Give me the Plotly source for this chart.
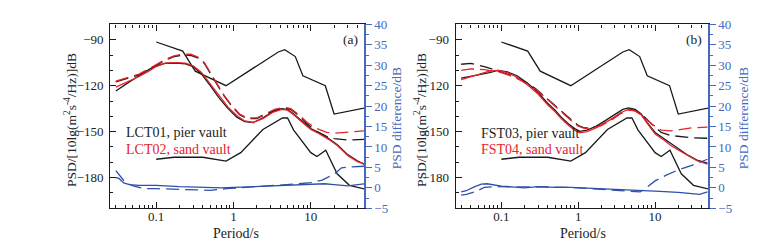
import plotly.graph_objects as go

# ---------------- data ----------------
# Peterson noise models (both panels)
T_nhnm = [0.1, 0.22, 0.32, 0.8, 3.8, 4.6, 6.3, 7.9, 15.4, 20.0, 50.0]
V_nhnm = [-91.5, -97.4, -110.5, -120.0, -98.0, -96.5, -101.0, -113.5, -120.0, -138.5, -134.5]
T_nlnm = [0.1, 0.17, 0.4, 0.8, 1.24, 2.4, 4.3, 5.0, 6.0, 10.0, 12.0, 15.6, 21.9, 31.6, 50.0]
V_nlnm = [-168.0, -166.7, -166.7, -169.2, -163.7, -148.6, -141.1, -141.1, -149.0, -163.7, -166.2, -162.1, -177.5, -185.0, -187.5]

# Panel (a)
Ta_solid = [0.03, 0.035, 0.045, 0.06, 0.08, 0.1, 0.13, 0.18, 0.24, 0.3, 0.38, 0.5, 0.65, 0.85, 1.1, 1.4,
            1.8, 2.4, 3.2, 4.2, 5.0, 6.0, 8.0, 10, 13, 17, 22, 30, 40, 50]
a_red_solid = [-121, -119.5, -117, -114, -110.5, -107.5, -105.3, -105, -105.3, -107, -111, -119, -127, -134,
               -139.5, -143, -144, -141.5, -137.5, -135.5, -136, -139, -144.5, -148.5, -151.5, -155, -159,
               -165.5, -169.5, -171]
a_black_solid = [-123.5, -121, -117.5, -113.5, -109.5, -107, -105.5, -105.2, -105.8, -107.5, -112, -120, -128,
                 -135, -140.5, -143.5, -144, -141, -137, -135, -135.5, -138.5, -144, -148, -151, -154.5,
                 -158.5, -165, -169, -171.5]
Ta_dash = [0.03, 0.04, 0.06, 0.08, 0.1, 0.13, 0.17, 0.22, 0.28, 0.35, 0.42, 0.5, 0.6, 0.75, 0.95, 1.2, 1.5,
           2.0, 2.6, 3.4, 4.5, 5.5, 7, 9, 12, 16, 20, 30, 50]
a_red_dash = [-117, -115, -112.5, -109, -106, -103, -100.5, -99.3, -99.5, -101.5, -105, -111, -118, -126, -133,
              -138.5, -141, -141, -138.5, -135.5, -134, -135, -139, -144, -148, -150.5, -151, -150.5, -149.5]
a_black_dash = [-117.5, -115.5, -113, -109.5, -106.5, -103.5, -101, -100, -100.3, -102, -105.5, -111.5, -118.5,
                -126.5, -133.5, -139, -141.5, -141.5, -139, -136, -134.5, -135.5, -139.5, -145, -150, -153,
                -154.5, -155.5, -155]
Ta_dsolid = [0.03, 0.033, 0.038, 0.045, 0.06, 0.1, 0.2, 0.4, 0.7, 1, 2, 4, 7, 10, 15, 20, 30, 50]
a_diff_solid = [2.5, 2.3, 1.2, 0.8, 0.6, 0.6, 0.3, 0.1, 0.0, 0.1, 0.3, 0.5, 0.8, 0.9, 1.0, 0.8, 0.5, 1.0]
Ta_ddash = [0.03, 0.035, 0.04, 0.05, 0.07, 0.1, 0.2, 0.35, 0.5, 0.8, 1.2, 2, 4, 7, 10, 14, 20, 25, 30, 50]
a_diff_dash = [4.2, 2.5, 1.3, 0.5, -0.2, -0.2, -0.3, -0.4, -0.6, -0.2, 0.0, 0.3, 0.6, 1.0, 1.3, 1.9, 3.3,
               4.9, 5.1, 5.3]

# Panel (b)
Tb_solid = [0.03, 0.04, 0.05, 0.07, 0.09, 0.12, 0.16, 0.22, 0.3, 0.4, 0.5, 0.6, 0.75, 0.9, 1.05, 1.3, 1.7,
            2.3, 3.0, 3.8, 4.5, 5.5, 6.6, 8, 10, 13, 16, 20, 27, 35, 48]
b_red_solid = [-116, -114, -112.5, -110.5, -110, -111.5, -114.5, -119.5, -125.5, -132.4, -137, -141.5, -146,
               -149, -150.8, -150, -147.5, -144, -140.5, -137, -135.5, -136.5, -139, -145, -151.5, -155.5,
               -159, -162, -166, -169, -171.2]
b_black_solid = [-115, -114, -113, -111.5, -110, -111, -113.5, -118.5, -124.5, -131.5, -136, -140.5, -145,
                 -148, -149.8, -149, -146.5, -142.5, -139, -135.5, -134.5, -135.5, -138.5, -144.5, -150.5,
                 -154.5, -158, -161, -165.5, -168.5, -170.5]
Tb_dash = [0.03, 0.04, 0.06, 0.08, 0.1, 0.13, 0.17, 0.22, 0.28, 0.35, 0.45, 0.6, 0.8, 1.0, 1.2, 1.5, 2, 2.7,
           3.5, 4.5, 5.5, 7, 9, 12, 16, 22, 30, 48]
b_red_dash = [-110, -109, -109.5, -110.5, -111.5, -113.5, -116, -119, -122.5, -126.5, -131.5, -137, -142.5,
              -146.5, -147.8, -147.8, -146, -142.5, -138.5, -136, -136.5, -140, -145, -149, -149.5, -148.5,
              -147.5, -147]
b_black_dash = [-106, -105.5, -107.5, -109.5, -111, -113, -115.5, -118.5, -122, -126, -131, -136.5, -142, -146,
                -147.5, -147.5, -145.5, -142, -138, -135.5, -136, -139.5, -145, -150.5, -152.5, -153.5, -154,
                -154.3]
Tb_dsolid = [0.03, 0.035, 0.045, 0.055, 0.065, 0.08, 0.1, 0.15, 0.2, 0.3, 0.5, 0.8, 1, 2, 4, 7, 10, 15, 20,
             30, 38, 48]
b_diff_solid = [-1.0, -0.7, 0.3, 0.9, 1.0, 0.8, 0.4, 0.2, 0.0, 0.3, 0.1, 0.1, 0.0, -0.3, -0.5, -0.7, -0.8,
                -0.9, -1.1, -1.4, -1.6, -1.0]
Tb_ddash = [0.03, 0.035, 0.045, 0.06, 0.08, 0.1, 0.15, 0.2, 0.3, 0.5, 0.8, 1.0, 2, 4, 6.4, 8, 10, 14, 20, 30, 48]
b_diff_dash = [-1.8, -1.6, -1.0, 0.1, 0.3, 0.3, 0.2, 0.3, 0.3, 0.2, 0.1, 0.0, -0.3, -0.7, -1.0, 0.3, 1.7, 3.1,
               4.4, 5.5, 7.0]

x_major = [0.1, 1, 10]
x_major_text = ["0.1", "1", "10"]
x_minor = [0.03, 0.04, 0.05, 0.06, 0.07, 0.08, 0.09, 0.2, 0.3, 0.4, 0.5, 0.6, 0.7, 0.8, 0.9,
           2, 3, 4, 5, 6, 7, 8, 9, 20, 30, 40]
y_left_ticks = [-180, -150, -120, -90]

# ---------------- styling ----------------
W, H = 767, 243
BLACK = "#1a1a1a"
RED = "#e8212b"
BLUE = "#2f4fa8"
AXBLUE = "#4668bd"
FONT = "Liberation Serif"
DASH = "13px,6px"

def px(x):
    return x / W

def py(y):
    return 1 - y / H

fig = go.Figure()

def add_panel(xa, data):
    for T, V, color, dash, yref in data:
        fig.add_trace(go.Scatter(x=T, y=V, mode="lines", xaxis=xa, yaxis=yref,
                                 line=dict(color=color, width=1.3, dash=dash),
                                 showlegend=False, hoverinfo="skip"))

panel_a = [
    (T_nhnm, V_nhnm, BLACK, "solid", "y"),
    (T_nlnm, V_nlnm, BLACK, "solid", "y"),
    (Ta_dash, a_black_dash, BLACK, DASH, "y"),
    (Ta_solid, a_black_solid, BLACK, "solid", "y"),
    (Ta_dash, a_red_dash, RED, DASH, "y"),
    (Ta_solid, a_red_solid, RED, "solid", "y"),
    (Ta_dsolid, a_diff_solid, BLUE, "solid", "y2"),
    (Ta_ddash, a_diff_dash, BLUE, DASH, "y2"),
]
panel_b = [
    (T_nhnm, V_nhnm, BLACK, "solid", "y3"),
    (T_nlnm, V_nlnm, BLACK, "solid", "y3"),
    (Tb_dash, b_black_dash, BLACK, DASH, "y3"),
    (Tb_solid, b_black_solid, BLACK, "solid", "y3"),
    (Tb_dash, b_red_dash, RED, DASH, "y3"),
    (Tb_solid, b_red_solid, RED, "solid", "y3"),
    (Tb_dsolid, b_diff_solid, BLUE, "solid", "y4"),
    (Tb_ddash, b_diff_dash, BLUE, DASH, "y4"),
]
add_panel("x", panel_a)
add_panel("x2", panel_b)

xrange = [-1.594, 1.688]
ydom = [py(206), py(10)]

def xaxis_def(dom, anchor):
    return dict(type="log", domain=dom, anchor=anchor, range=xrange, showgrid=False, zeroline=False,
                showline=True, linecolor=BLACK, linewidth=1.3, mirror="ticks",
                tickmode="array", tickvals=x_major, ticktext=x_major_text,
                ticks="inside", ticklen=6, tickcolor=BLACK, tickwidth=1, ticklabelstandoff=-4,
                minor=dict(tickmode="array", tickvals=x_minor, ticks="inside", ticklen=3,
                           tickcolor=BLACK, tickwidth=1),
                tickfont=dict(family=FONT, size=13, color="#222"))

def yleft_def(anchor):
    return dict(domain=ydom, range=[-200, -80], anchor=anchor, showgrid=False, zeroline=False,
                showline=True, linecolor=BLACK, linewidth=1.3,
                tickmode="array", tickvals=y_left_ticks, ticks="inside", ticklen=6,
                tickcolor=BLACK, ticklabelstandoff=3,
                minor=dict(tickmode="linear", tick0=-200, dtick=10, ticks="inside", ticklen=3,
                           tickcolor=BLACK),
                tickfont=dict(family=FONT, size=13, color="#222"))

def yright_def(overlay, anchor):
    return dict(overlaying=overlay, anchor=anchor, side="right", range=[-5, 40], showgrid=False,
                zeroline=False, showline=True, linecolor=AXBLUE, linewidth=1.5,
                tickmode="linear", tick0=0, dtick=5, ticks="outside", ticklen=6, tickcolor=AXBLUE,
                minor=dict(tickmode="linear", tick0=0, dtick=2.5, ticks="outside", ticklen=3,
                           tickcolor=AXBLUE),
                tickfont=dict(family=FONT, size=13, color=AXBLUE))

fig.update_layout(
    width=W, height=H, margin=dict(l=0, r=0, t=0, b=0),
    paper_bgcolor="white", plot_bgcolor="white", showlegend=False,
    xaxis=xaxis_def([px(102.3), px(356)], "y"),
    xaxis2=xaxis_def([px(447.7), px(700)], "y3"),
    yaxis=yleft_def("x"),
    yaxis2=yright_def("y", "x"),
    yaxis3=yleft_def("x2"),
    yaxis4=yright_def("y3", "x2"),
)

ann = []
def text(x, y, s, color="#222", size=13.5, angle=0, xanchor="center"):
    ann.append(dict(x=px(x), y=py(y), xref="paper", yref="paper", text=s, showarrow=False,
                    textangle=angle, xanchor=xanchor, yanchor="middle", borderpad=0,
                    font=dict(family=FONT, size=size, color=color)))

ylabel = "PSD/[10lg(m<sup>2</sup>s<sup>-4</sup>/Hz)]dB"
# panel (a)
text(342, 26, "(a)")
text(117, 125, "LCT01, pier vault", xanchor="left", size=14)
text(117, 143, "LCT02, sand vault", color=RED, xanchor="left", size=14)
text(228, 233, "Period/s", size=14)
text(62, 112, ylabel, angle=-90)
text(388, 110, "PSD difference/dB", color=AXBLUE, angle=-90)
# panel (b)
text(686, 26, "(b)")
text(472, 126, "FST03, pier vault", xanchor="left", size=14)
text(472, 143, "FST04, sand vault", color=RED, xanchor="left", size=14)
text(575, 233, "Period/s", size=14)
text(412, 112, ylabel, angle=-90)
text(735, 110, "PSD difference/dB", color=AXBLUE, angle=-90)
fig.update_layout(annotations=ann)

fig.write_html("out.html")
